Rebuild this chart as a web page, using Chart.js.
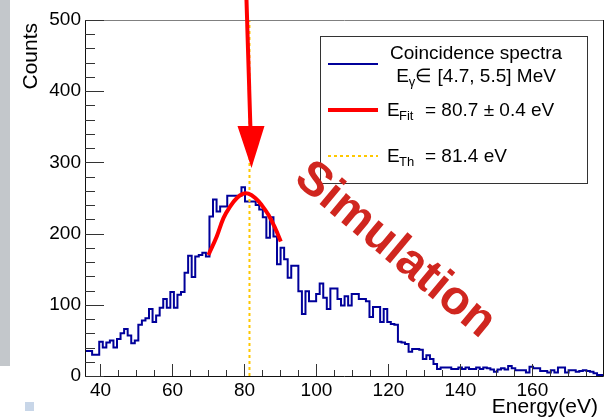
<!DOCTYPE html>
<html>
<head>
<meta charset="utf-8">
<script src="https://cdn.jsdelivr.net/npm/chart.js@4"></script>
<style>
  html, body { margin: 0; padding: 0; background: #fff; }
  canvas { display: block; }
</style>
</head>
<body>
<canvas id="spectrum" width="609" height="419"></canvas>
<script>
// histogram binning: first edge on the axis, ~1 eV bins
const HIST_LO = 35.7;
const BIN_W   = 0.988;

// counts per bin, left to right
const counts = [
  42, 35, 35, 30, 30, 48, 40, 47, 50, 40,
  52, 60, 66, 57, 46, 50, 72, 78, 81, 94,
  76, 85, 96, 108, 96, 118, 96, 114, 118, 145,
  169, 139, 168, 170, 173, 168, 224, 248, 231, 238,
  238, 253, 253, 253, 253, 265, 245, 245, 245, 240,
  234, 223, 194, 223, 196, 157, 180, 164, 138, 155,
  155, 119, 87, 119, 105, 105, 115, 130, 110, 94,
  123, 123, 108, 99, 112, 99, 115, 115, 108, 108,
  105, 83, 97, 97, 76, 94, 76, 73, 72, 48,
  47, 45, 34, 38, 38, 37, 24, 29, 24, 17,
  10, 12, 12, 12, 10, 10, 12, 10, 12, 10,
  10, 12, 10, 12, 11, 9, 6, 9, 11, 9,
  14, 11, 8, 8, 8, 5, 13, 11, 11, 7,
  7, 5, 8, 5, 12, 12, 5, 8, 8, 6,
  7, 8, 7, 6, 4, 1.5,
];

// fitted curve
const fitEnergy = [70.0, 72.3, 74.2, 76.0, 77.9, 79.7, 81.1, 83.0, 84.8, 86.7, 88.5, 90.1];
const fitCounts = [170, 196, 222, 238, 250, 256, 256, 250, 240, 226, 208, 189];

// theoretical energy marker
const E_TH = 81.4;

const X_RANGE = [35.7, 179.9];
const Y_RANGE = [0, 500];
const X_STEP = 20, X_MINOR = 5;
const Y_STEP = 100, Y_MINOR = 20;

const FONT = '"Liberation Sans", Arial, Helvetica, sans-serif';

const histPoints = counts.map((c, i) => ({ x: HIST_LO + i * BIN_W, y: c }));
histPoints.push({ x: HIST_LO + counts.length * BIN_W, y: counts[counts.length - 1] });

// frame, inward ticks, axis titles, legend, annotations (ROOT look)
const rootStyle = {
  id: 'rootStyle',
  afterDraw(chart) {
    const { ctx, chartArea: a, scales: { x, y } } = chart;
    ctx.save();

    // slide leftovers
    ctx.fillStyle = '#c3c7cb';
    ctx.fillRect(0, 0, 10, 366);
    ctx.fillStyle = '#c8d6e8';
    ctx.fillRect(25, 402, 9, 9);

    // frame
    ctx.lineWidth = 1;
    ctx.strokeStyle = '#808080';
    ctx.beginPath();
    ctx.moveTo(a.left, a.top + 0.5); ctx.lineTo(a.right, a.top + 0.5);
    ctx.stroke();
    ctx.strokeStyle = '#111';
    ctx.beginPath();
    ctx.moveTo(a.left + 0.5, a.top); ctx.lineTo(a.left + 0.5, a.bottom + 0.5);
    ctx.lineTo(a.right - 0.5, a.bottom + 0.5); ctx.lineTo(a.right - 0.5, a.top);
    ctx.stroke();

    // ticks
    ctx.strokeStyle = '#333';
    ctx.beginPath();
    for (let v = Math.ceil(X_RANGE[0] / X_MINOR) * X_MINOR; v <= X_RANGE[1]; v += X_MINOR) {
      const px = Math.round(x.getPixelForValue(v)) + 0.5;
      const len = v % X_STEP === 0 ? 12 : 6;
      ctx.moveTo(px, a.bottom); ctx.lineTo(px, a.bottom - len);
    }
    for (let v = Y_RANGE[0]; v <= Y_RANGE[1]; v += Y_MINOR) {
      const py = Math.round(y.getPixelForValue(v)) + 0.5;
      const len = v % Y_STEP === 0 ? 19 : 10;
      ctx.moveTo(a.left, py); ctx.lineTo(a.left + len, py);
    }
    ctx.stroke();

    // axis titles
    ctx.fillStyle = '#000';
    ctx.font = `21px ${FONT}`;
    ctx.textAlign = 'right';
    ctx.textBaseline = 'alphabetic';
    ctx.fillText('Energy(eV)', 598, 413);
    ctx.save();
    ctx.translate(37, 23);
    ctx.rotate(-Math.PI / 2);
    ctx.fillText('Counts', 0, 0);
    ctx.restore();

    // legend
    const L = { x: 320, y: 36, w: 267, h: 147 };
    ctx.fillStyle = '#fff';
    ctx.fillRect(L.x, L.y, L.w, L.h);
    ctx.strokeStyle = '#333';
    ctx.strokeRect(L.x + 0.5, L.y + 0.5, L.w, L.h);

    ctx.lineWidth = 2;
    ctx.strokeStyle = '#00009a';
    ctx.beginPath(); ctx.moveTo(328, 64); ctx.lineTo(378, 64); ctx.stroke();
    ctx.lineWidth = 4;
    ctx.strokeStyle = '#ff0000';
    ctx.beginPath(); ctx.moveTo(328, 110); ctx.lineTo(378, 110); ctx.stroke();
    ctx.lineWidth = 2;
    ctx.strokeStyle = '#ffc800';
    ctx.setLineDash([3, 3]);
    ctx.beginPath(); ctx.moveTo(328, 156); ctx.lineTo(378, 156); ctx.stroke();
    ctx.setLineDash([]);

    const main = `19px ${FONT}`, sub = `13px ${FONT}`;
    ctx.fillStyle = '#000';
    ctx.textAlign = 'center';
    ctx.font = main;
    ctx.fillText('Coincidence spectra', 476, 59);

    ctx.textAlign = 'left';
    ctx.font = main;
    const wE = ctx.measureText('E').width;
    const rest2 = '\u2208 [4.7, 5.5] MeV';
    const wRest2 = ctx.measureText(rest2).width;
    ctx.font = sub;
    const wG = ctx.measureText('\u03b3').width;
    let sx = 476 - (wE + wG + wRest2) / 2;
    ctx.font = main; ctx.fillText('E', sx, 82);
    ctx.font = sub;  ctx.fillText('\u03b3', sx + wE, 86);
    ctx.font = main; ctx.fillText(rest2, sx + wE + wG, 82);

    ctx.font = main; ctx.fillText('E', 387, 116);
    ctx.font = sub;  ctx.fillText('Fit', 399, 120);
    ctx.font = main; ctx.fillText('= 80.7 \u00b1 0.4 eV', 425, 116);

    ctx.font = main; ctx.fillText('E', 387, 162);
    ctx.font = sub;  ctx.fillText('Th', 399, 166);
    ctx.font = main; ctx.fillText('= 81.4 eV', 425, 162);

    // watermark
    ctx.save();
    ctx.translate(395, 250);
    ctx.rotate(40 * Math.PI / 180);
    ctx.fillStyle = '#d0261f';
    ctx.font = `bold 48px ${FONT}`;
    ctx.textAlign = 'center';
    ctx.textBaseline = 'middle';
    ctx.fillText('Simulation', 0, 0);
    ctx.restore();

    // arrow pointing at E_Th
    const tipX = x.getPixelForValue(E_TH) + 2;
    ctx.strokeStyle = '#ff0000';
    ctx.fillStyle = '#ff0000';
    ctx.lineWidth = 4;
    ctx.beginPath(); ctx.moveTo(tipX - 5, 0); ctx.lineTo(tipX - 1, 130); ctx.stroke();
    ctx.beginPath();
    ctx.moveTo(tipX - 14, 126); ctx.lineTo(tipX + 13, 126); ctx.lineTo(tipX, 168);
    ctx.closePath(); ctx.fill();

    ctx.restore();
  },
};

new Chart(document.getElementById('spectrum'), {
  type: 'line',
  data: {
    datasets: [
      {
        label: 'Fit',
        data: fitEnergy.map((e, i) => ({ x: e, y: fitCounts[i] })),
        borderColor: '#ff0000',
        borderWidth: 4,
        pointRadius: 0,
        tension: 0.4,
        fill: false,
      },
      {
        label: 'E_Th',
        data: [{ x: E_TH, y: Y_RANGE[0] }, { x: E_TH, y: Y_RANGE[1] }],
        borderColor: '#ffc800',
        borderWidth: 2,
        borderDash: [3, 3],
        pointRadius: 0,
        fill: false,
      },
      {
        label: 'Coincidence spectra',
        data: histPoints,
        borderColor: '#00009a',
        borderWidth: 2,
        stepped: 'after',
        pointRadius: 0,
        fill: false,
      },
    ],
  },
  options: {
    responsive: false,
    animation: false,
    layout: { padding: { top: 20, right: 5, left: 0, bottom: 0 } },
    plugins: { legend: { display: false }, tooltip: { enabled: false } },
    scales: {
      x: {
        type: 'linear',
        min: X_RANGE[0],
        max: X_RANGE[1],
        afterFit(s) { s.height = 43; },
        grid: { display: false, drawTicks: false },
        border: { display: false },
        ticks: {
          stepSize: X_STEP, includeBounds: false, autoSkip: false, maxRotation: 0,
          padding: 3, color: '#000', font: { family: FONT, size: 19 },
        },
      },
      y: {
        min: Y_RANGE[0],
        max: Y_RANGE[1],
        afterFit(s) { s.width = 85; },
        grid: { display: false, drawTicks: false },
        border: { display: false },
        ticks: {
          stepSize: Y_STEP, padding: 4, color: '#000', font: { family: FONT, size: 19 },
        },
      },
    },
  },
  plugins: [rootStyle],
});
</script>
</body>
</html>
